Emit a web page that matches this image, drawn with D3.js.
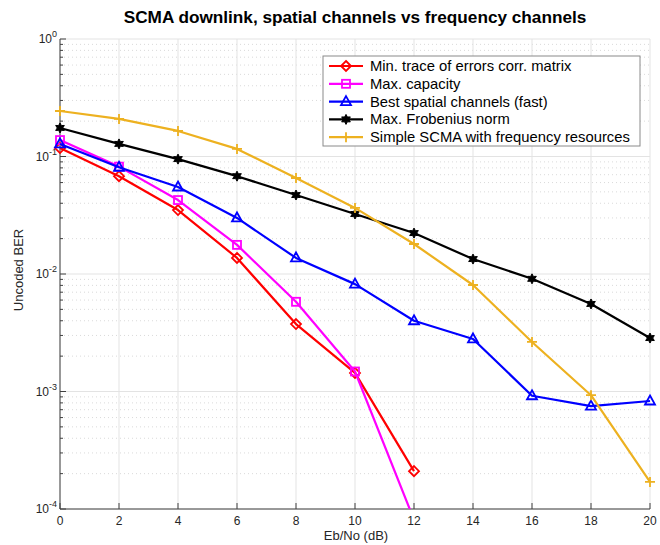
<!DOCTYPE html>
<html><head><meta charset="utf-8">
<script src="https://cdn.jsdelivr.net/npm/d3@7"></script>
<style>body{margin:0;background:#fff}svg{display:block}text{font-family:"Liberation Sans",Arial,sans-serif}</style>
</head><body><svg id="c" width="660" height="545"></svg>
<script>
const ebno = [0,2,4,6,8,10,12,14,16,18,20];
const minTrace = [0.118,0.068,0.035,0.0137,0.00375,0.00144,0.00021];
const maxCap = [0.138,0.082,0.0426,0.0177,0.0058,0.00148,0.000081];
const bestSpatial = [0.128,0.081,0.055,0.030,0.0137,0.0082,0.0040,0.0028,0.00092,0.00075,0.00083];
const maxFrob = [0.175,0.128,0.095,0.068,0.047,0.0324,0.0223,0.0134,0.0091,0.00556,0.00285];
const simpleScma = [0.244,0.209,0.165,0.116,0.0656,0.0365,0.018,0.00806,0.00264,0.00093,0.00017];
const seriesNames = ["Min. trace of errors corr. matrix","Max. capacity","Best spatial channels (fast)","Max. Frobenius norm","Simple SCMA with frequency resources"];
const seriesColors = ["#ff0000","#ff00ff","#0000ff","#000000","#edb120"];
const seriesMarkers = ["diamond","square","triangle","hexagram","plus"];
const seriesData = [minTrace,maxCap,bestSpatial,maxFrob,simpleScma];
const xTicks = [0,2,4,6,8,10,12,14,16,18,20];
const yDecades = [0,-1,-2,-3,-4];

const svg = d3.select("#c");
const L=60,R=650,T=39,B=509;
const x = d3.scaleLinear().domain([0,20]).range([L,R]);
const y = d3.scaleLog().domain([1e-4,1]).range([B,T]);

// grid
const g = svg.append("g");
const minors=[];
for (let e=-4;e<0;e++) for(let k=2;k<=9;k++) minors.push(k*Math.pow(10,e));
g.selectAll(".mn").data(minors).enter().append("line")
 .attr("x1",L).attr("x2",R).attr("y1",d=>y(d)).attr("y2",d=>y(d))
 .attr("stroke","#d0d0d0").attr("stroke-width",0.8).attr("stroke-dasharray","1,3");
g.selectAll(".mj").data(yDecades).enter().append("line")
 .attr("x1",L).attr("x2",R).attr("y1",d=>y(Math.pow(10,d))).attr("y2",d=>y(Math.pow(10,d)))
 .attr("stroke","#e3e3e3").attr("stroke-width",1);
g.selectAll(".vx").data(xTicks).enter().append("line")
 .attr("x1",d=>x(d)).attr("x2",d=>x(d)).attr("y1",T).attr("y2",B)
 .attr("stroke","#e3e3e3").attr("stroke-width",1);

// axes
const axC="#404040";
svg.append("line").attr("x1",L).attr("x2",L).attr("y1",T).attr("y2",B).attr("stroke",axC);
svg.append("line").attr("x1",L).attr("x2",R).attr("y1",B).attr("y2",B).attr("stroke",axC);
svg.selectAll(".xt").data(xTicks).enter().append("line")
 .attr("x1",d=>x(d)).attr("x2",d=>x(d)).attr("y1",B).attr("y2",B-6).attr("stroke",axC);
svg.selectAll(".xl").data(xTicks).enter().append("text")
 .attr("x",d=>x(d)).attr("y",B+16).attr("text-anchor","middle").attr("font-size",12).attr("fill","#262626").text(d=>d);
svg.selectAll(".yt").data(yDecades).enter().append("line")
 .attr("x1",L).attr("x2",L+6).attr("y1",d=>y(Math.pow(10,d))).attr("y2",d=>y(Math.pow(10,d))).attr("stroke",axC);
svg.selectAll(".ymt").data(minors).enter().append("line")
 .attr("x1",L).attr("x2",L+3).attr("y1",d=>y(d)).attr("y2",d=>y(d)).attr("stroke",axC);
const yl = svg.selectAll(".yl").data(yDecades).enter().append("text")
 .attr("x",L-3).attr("y",d=>y(Math.pow(10,d))+4).attr("text-anchor","end").attr("font-size",12).attr("fill","#262626");
yl.append("tspan").text("10");
yl.append("tspan").attr("dy",-6).attr("font-size",9).text(d=>d);

// title & labels
svg.append("text").attr("x",355).attr("y",23).attr("text-anchor","middle").attr("font-size",17.2).attr("font-weight","bold").attr("fill","#000").text("SCMA downlink, spatial channels vs frequency channels");
svg.append("text").attr("x",356).attr("y",540).attr("text-anchor","middle").attr("font-size",13).attr("fill","#262626").text("Eb/No (dB)");
svg.append("text").attr("transform",`translate(23,270) rotate(-90)`).attr("text-anchor","middle").attr("font-size",13).attr("fill","#262626").text("Uncoded BER");

// markers
function hexPath(r){const pts=[];for(let i=0;i<12;i++){const a=-Math.PI/2+i*Math.PI/6;const rr=i%2?r*0.55:r;pts.push([rr*Math.cos(a),rr*Math.sin(a)]);}return "M"+pts.map(p=>p.join(",")).join("L")+"Z";}
function drawMarker(sel,type,color){
  if(type==="diamond") sel.append("path").attr("d","M0,-5L5,0L0,5L-5,0Z").attr("fill","none").attr("stroke",color).attr("stroke-width",1.8);
  else if(type==="square") sel.append("rect").attr("x",-4).attr("y",-4).attr("width",8).attr("height",8).attr("fill","none").attr("stroke",color).attr("stroke-width",1.8);
  else if(type==="triangle") sel.append("path").attr("d","M0,-5.5L5,3.5L-5,3.5Z").attr("fill","none").attr("stroke",color).attr("stroke-width",1.8);
  else if(type==="hexagram") sel.append("path").attr("d",hexPath(5)).attr("fill",color).attr("stroke",color).attr("stroke-width",1);
  else if(type==="plus") sel.append("path").attr("d","M-5,0H5M0,-5V5").attr("stroke",color).attr("stroke-width",1.8);
}

svg.append("clipPath").attr("id","clip").append("rect").attr("x",L-8).attr("y",T-8).attr("width",R-L+16).attr("height",B-T+8);
const plot = svg.append("g").attr("clip-path","url(#clip)");
const line = d3.line().x(d=>x(d[0])).y(d=>y(d[1]));
seriesData.forEach((vals,i)=>{
  const pts = vals.map((v,j)=>[ebno[j],v]);
  plot.append("path").datum(pts).attr("d",line).attr("fill","none").attr("stroke",seriesColors[i]).attr("stroke-width",2.2).attr("stroke-linejoin","round");
  pts.filter(p=>p[1]>=1e-4).forEach(p=>{
    const m = plot.append("g").attr("transform",`translate(${x(p[0])},${y(p[1])})`);
    drawMarker(m,seriesMarkers[i],seriesColors[i]);
  });
});

// legend
const lg = svg.append("g").attr("transform","translate(323,56)");
lg.append("rect").attr("width",317).attr("height",90).attr("fill","#fff").attr("stroke","#8a8a8a").attr("stroke-width",1);
seriesNames.forEach((n,i)=>{
  const yy = 10+i*17.8;
  lg.append("line").attr("x1",6).attr("x2",40).attr("y1",yy).attr("y2",yy).attr("stroke",seriesColors[i]).attr("stroke-width",2.2);
  const m = lg.append("g").attr("transform",`translate(23,${yy})`);
  drawMarker(m,seriesMarkers[i],seriesColors[i]);
  lg.append("text").attr("x",47).attr("y",yy+5).attr("font-size",14.8).attr("fill","#000").text(n);
});
</script></body></html>
